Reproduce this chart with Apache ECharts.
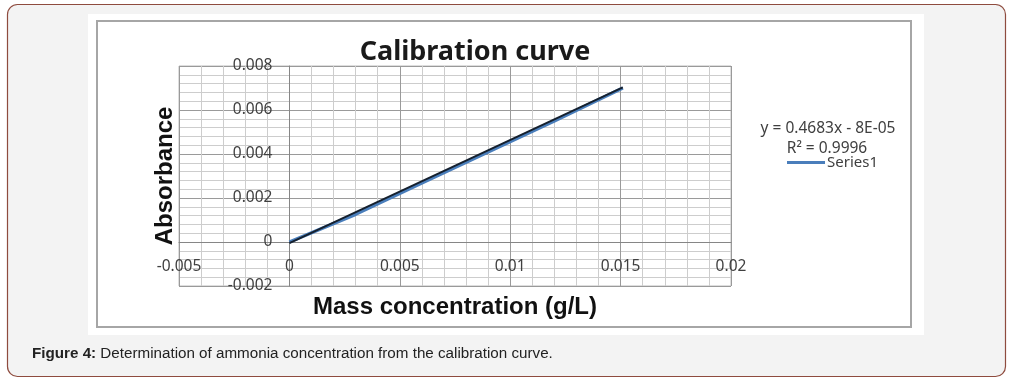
<!DOCTYPE html>
<html>
<head>
<meta charset="utf-8">
<script src="https://cdn.jsdelivr.net/npm/echarts@6/dist/echarts.min.js"></script>
<style>
html,body{margin:0;padding:0;background:#fff;}
#chart{width:1012px;height:383px;}
</style>
</head>
<body>
<div id="chart"></div>
<script>
// ---- data ----
const titleText = 'Calibration curve';
const xName = 'Mass concentration (g/L)';
const yName = 'Absorbance';
const seriesName = 'Series1';
const series1X = [0, 0.003, 0.006, 0.009, 0.012, 0.0151];
const series1Y = [0, 0.00126, 0.00268, 0.0041, 0.0055, 0.00700];
const trendX = [0, 0.0151];
const trendY = [-0.00005, 0.00703];
const equationText = 'y = 0.4683x - 8E-05';
const r2Text = 'R² = 0.9996';
const captionBold = 'Figure 4:';
const captionText = ' Determination of ammonia concentration from the calibration curve.';
const xTicks = [-0.005, 0, 0.005, 0.01, 0.015, 0.02];
const yTicks = [-0.002, 0, 0.002, 0.004, 0.006, 0.008];
const xTickLabels = ['-0.005', '0', '0.005', '0.01', '0.015', '0.02'];
const yTickLabels = ['-0.002', '0', '0.002', '0.004', '0.006', '0.008'];

function labelFor(ticks, labels) {
  return function (v) {
    for (let i = 0; i < ticks.length; i++) {
      if (Math.abs(ticks[i] - v) < 1e-9) return labels[i];
    }
    return '';
  };
}

const chart = echarts.init(document.getElementById('chart'), null, {renderer: 'canvas'});
const tickFont = {fontFamily: 'Noto Sans', fontSize: 15.5, color: '#404040'};
const GRID = {left: 179, top: 66, width: 552, height: 220};

chart.setOption({
  animation: false,
  backgroundColor: 'transparent',
  title: {
    text: titleText,
    left: 475, top: 39, textAlign: 'center', padding: 0,
    textStyle: {fontFamily: 'Noto Sans', fontWeight: 'bold', fontSize: 27, color: '#1a1a1a'}
  },
  grid: Object.assign({
    show: true, borderColor: '#bdbdbd', borderWidth: 1, backgroundColor: 'transparent',
    containLabel: false
  }, GRID),
  legend: {
    data: [seriesName],
    left: 787, top: 155, padding: 0,
    icon: 'rect', itemWidth: 38, itemHeight: 3,
    textStyle: {fontFamily: 'Noto Sans', fontSize: 15, color: '#404040', padding: [0, 0, 0, -3]}
  },
  xAxis: {
    type: 'value', min: -0.005, max: 0.02, interval: 0.005,
    name: xName, nameLocation: 'middle', nameGap: 53,
    nameTextStyle: {fontFamily: 'Liberation Sans', fontWeight: 'bold', fontSize: 24, color: '#111'},
    axisLine: {show: true, onZero: false, lineStyle: {color: '#868686', width: 1}},
    axisTick: {show: false},
    axisLabel: Object.assign({margin: 17, formatter: labelFor(xTicks, xTickLabels)}, tickFont),
    splitLine: {show: true, lineStyle: {color: '#9a9a9a', width: 1}},
    minorTick: {show: false, splitNumber: 5},
    minorSplitLine: {show: true, lineStyle: {color: '#cdcdcd', width: 1}}
  },
  yAxis: {
    type: 'value', min: -0.002, max: 0.008, interval: 0.002,
    name: yName, nameLocation: 'middle', nameGap: 112,
    nameTextStyle: {fontFamily: 'Liberation Sans', fontWeight: 'bold', fontSize: 24, color: '#111'},
    axisLine: {show: true, onZero: false, lineStyle: {color: '#868686', width: 1}},
    axisTick: {show: false},
    axisLabel: Object.assign({margin: 17, formatter: labelFor(yTicks, yTickLabels)}, tickFont),
    splitLine: {show: true, lineStyle: {color: '#9a9a9a', width: 1}},
    minorTick: {show: false, splitNumber: 5},
    minorSplitLine: {show: true, lineStyle: {color: '#cdcdcd', width: 1}}
  },
  series: [
    {
      name: seriesName, type: 'line',
      data: series1X.map((x, i) => [x, series1Y[i]]),
      showSymbol: false, symbol: 'none',
      lineStyle: {color: '#4a7ebb', width: 3.5},
      itemStyle: {color: '#4a7ebb'},
      z: 2
    },
    {
      name: 'Linear (Series1)', type: 'line',
      data: trendX.map((x, i) => [x, trendY[i]]),
      showSymbol: false, symbol: 'none',
      lineStyle: {color: '#15202e', width: 2},
      itemStyle: {color: '#15202e'},
      z: 3
    }
  ],
  graphic: {
    elements: [
      {type: 'rect', z: -30, silent: true,
       shape: {x: 7.5, y: 4.5, width: 998, height: 372, r: 10},
       style: {fill: '#f3f3f3', stroke: '#8e4b3e', lineWidth: 1.2}},
      {type: 'rect', z: -29, silent: true,
       shape: {x: 88, y: 14, width: 836, height: 321},
       style: {fill: '#ffffff'}},
      {type: 'rect', z: -28, silent: true,
       shape: {x: 97, y: 21, width: 814, height: 306},
       style: {fill: '#ffffff', stroke: '#a6a6a6', lineWidth: 2}},
      {type: 'text', z: 10, silent: true, x: 828, y: 129,
       style: {text: equationText, align: 'center', verticalAlign: 'middle',
               font: '15.5px "Noto Sans"', fill: '#404040'}},
      {type: 'text', z: 10, silent: true, x: 827, y: 149,
       style: {text: r2Text, align: 'center', verticalAlign: 'middle',
               font: '15.5px "Noto Sans"', fill: '#404040'}},
      {type: 'text', z: 10, silent: true, x: 32, y: 354,
       style: {
         text: '{b|' + captionBold + '}{n|' + captionText + '}',
         verticalAlign: 'middle', align: 'left',
         rich: {
           b: {fontFamily: 'Liberation Sans', fontWeight: 'bold', fontSize: 15.2, fill: '#222'},
           n: {fontFamily: 'Liberation Sans', fontSize: 15.2, fill: '#222'}
         }
       }}
    ]
  }
});

// Place each axis on the other's zero, using the library's own scales.
const zeroX = chart.convertToPixel({xAxisIndex: 0}, 0);
const zeroY = chart.convertToPixel({yAxisIndex: 0}, 0);
chart.setOption({
  xAxis: {offset: zeroY - (GRID.top + GRID.height)},
  yAxis: {offset: GRID.left - zeroX}
});
</script>
</body>
</html>
